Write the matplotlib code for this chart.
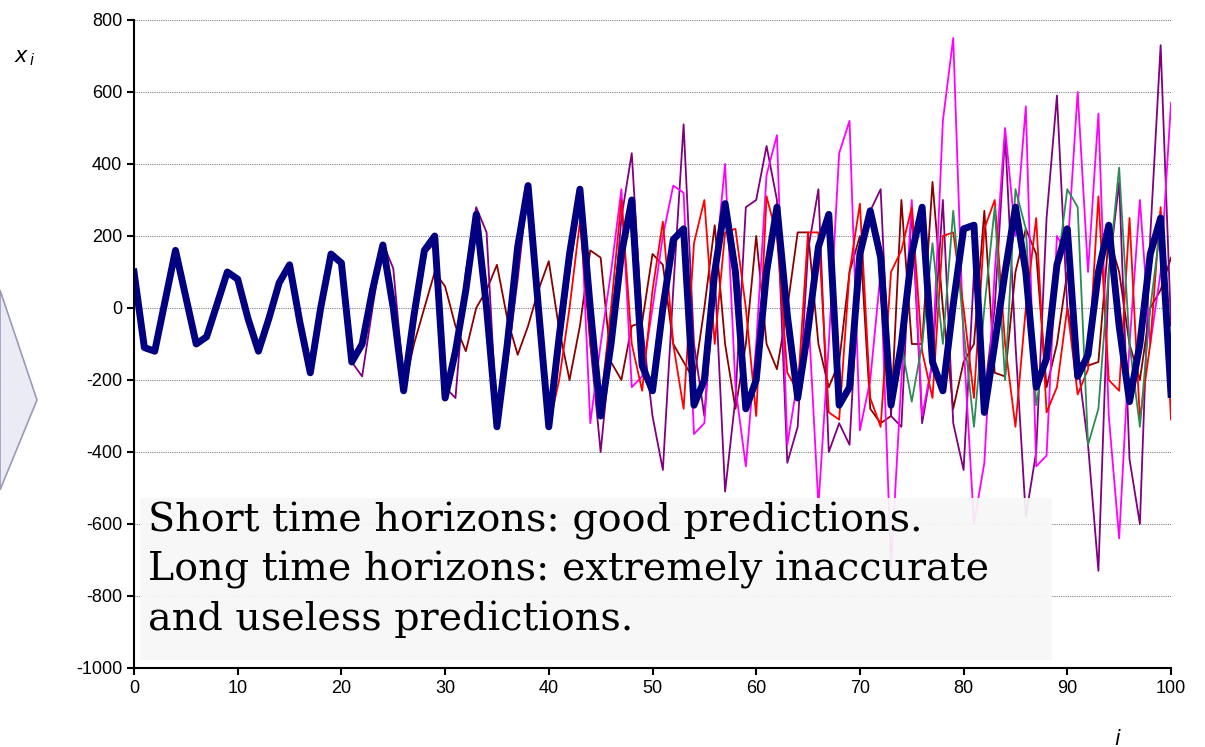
import matplotlib
matplotlib.use("Agg")
import matplotlib.pyplot as plt
from matplotlib.patches import Polygon, Rectangle

plt.rcParams["axes.unicode_minus"] = False

i_vals = list(range(101))
blue = [100,-110,-120,20,160,30,-100,-80,10,100,80,-30,-120,-30,70,120,-40,-180,0,150,
        125,-150,-100,50,175,0,-230,-20,160,200,-250,-120,50,260,0,-330,-100,170,340,0,
        -330,-80,150,330,0,-300,-100,150,300,-160,-230,0,190,220,-270,-200,100,290,100,-280,
        -200,100,280,-20,-250,-60,170,260,-270,-220,150,270,140,-270,-100,150,280,-150,-230,10,
        220,230,-290,-100,100,280,100,-220,-140,120,220,-190,-130,100,230,-50,-260,-100,150,250,-240]
darkred_tail = [-100,0,100,60,-50,-120,0,50,120,-30,-130,-50,50,130,-60,-200,-50,160,140,-150,
                -200,-50,-40,150,120,-100,-150,-200,0,230,-100,-280,-100,200,-100,-170,0,210,210,-100,
                -220,-150,100,200,-280,-320,-300,300,-100,-100,350,0,-280,-150,-100,270,-180,-190,100,220,
                150,-220,-100,100,-150,-160,-150,200,100,-100,-200,0,50,140]
purple_tail = [-190,0,180,110,-200,-40,150,180,-220,-250,100,280,210,-320,-150,80,340,-10,-300,-120,
               100,310,-100,-400,-100,250,430,-50,-300,-450,50,510,-100,-300,100,-510,-250,280,300,450,
               300,-430,-330,160,330,-400,-320,-380,150,270,330,-300,-330,280,-320,-150,300,-320,-450,100,
               -240,0,480,-100,-580,-400,250,590,0,-150,-380,-730,100,350,-420,-600,200,730,-50]
magenta_tail = [-320,-100,100,330,-220,-190,0,200,340,320,-350,-320,100,400,-220,-440,-100,370,480,-380,
                -200,0,-550,-100,430,520,-340,-200,100,-720,-200,300,-300,-150,520,750,-100,-600,-430,100,
                500,200,560,-440,-410,200,150,600,100,540,-300,-640,-100,300,-100,100,570]
red_tail = [-200,0,240,-100,-270,0,300,-100,-230,50,240,-100,-280,180,300,-100,210,220,0,-300,
            310,200,-180,-230,210,210,-290,-310,100,290,-250,-330,100,160,280,-120,-250,200,210,0,
            -250,220,300,-100,-330,0,250,-290,-220,0,-240,-170,310,-200,-230,250,-310,-100,280,-310]
green_tail = [-260,-100,180,-100,270,-60,-330,0,280,-200,330,220,-270,-100,100,330,280,-380,-280,100,
              390,-100,-330,0,230,-190]

darkred = blue[:27] + darkred_tail
purple = blue[:22] + purple_tail
magenta = blue[:44] + magenta_tail
red = blue[:41] + red_tail
green = blue[:75] + green_tail

fig = plt.figure(figsize=(12.05, 7.47), dpi=100)
ax = fig.add_axes([134/1205, 1-668/747, (1171-134)/1205, (668-20)/747])

fig.patches.append(Polygon([(0, 1-290/747), (37/1205, 1-400/747), (0, 1-490/747)],
                           closed=True, transform=fig.transFigure, facecolor="#ebebf5",
                           edgecolor="#9a9ab8", lw=1.2))

series = [(darkred, "#8b0000"), (purple, "#800080"), (magenta, "#ff00ff"),
          (red, "#ff0000"), (green, "#2e8b57")]
for ys, c in series:
    ax.plot(i_vals, ys, color=c, lw=1.3)
ax.plot(i_vals, blue, color="#000080", lw=5)

ax.set_xlim(0, 100)
ax.set_ylim(-1000, 800)
ax.set_xticks(range(0, 101, 10))
ax.set_yticks(range(-1000, 801, 200))
ax.yaxis.grid(True, color="#808080", ls=(0, (1, 1)), lw=0.8)
ax.set_axisbelow(True)
for s in ["top", "right"]:
    ax.spines[s].set_visible(False)
ax.spines["left"].set_linewidth(1.5)
ax.spines["bottom"].set_linewidth(1.5)
ax.tick_params(labelsize=13, direction="out", length=5, width=1.5)
for t in ax.get_yticklabels() + ax.get_xticklabels():
    t.set_fontfamily("Liberation Sans")

fig.text(14/1205, 1-62/747, "$x_{\\,i}$", fontsize=15)
fig.text(1114/1205, 1-745/747, "$i$", fontsize=15)

fig.patches.append(Rectangle((140/1205, 1-660/747), 912/1205, 162/747, transform=fig.transFigure,
                             facecolor="#f7f7f7", edgecolor="none", alpha=0.93, zorder=5))
fig.text(148/1205, 1-502/747,
         "Short time horizons: good predictions.\nLong time horizons: extremely inaccurate\nand useless predictions.",
         family="DejaVu Serif", fontsize=28.5, va="top", ha="left", linespacing=1.38, zorder=6)

fig.savefig("out.png", dpi=100)
